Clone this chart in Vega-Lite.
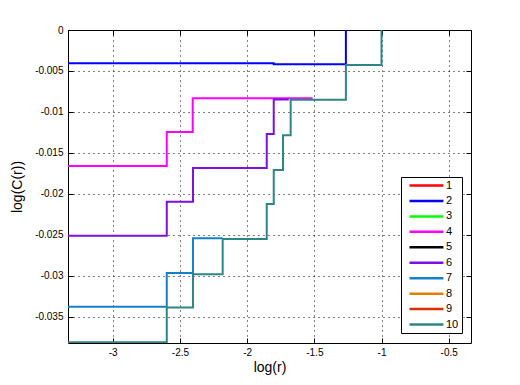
{
  "$schema": "https://vega.github.io/schema/vega-lite/v6.json",
  "width": 403,
  "height": 313,
  "autosize": {"type": "none"},
  "padding": {"left": 68, "top": 30, "right": 49, "bottom": 42},
  "background": "white",
  "config": {
    "font": "Liberation Sans",
    "view": {"stroke": "black", "strokeWidth": 1},
    "axis": {"labelFont": "Liberation Sans", "labelFontSize": 10, "labelColor": "black", "titleFont": "Liberation Sans", "titleFontWeight": "normal", "titleColor": "black", "titleFontSize": 14, "domain": false, "tickColor": "black", "tickSize": -5, "gridColor": "black", "gridOpacity": 1, "gridDash": [1, 4], "gridWidth": 1}
  },
  "data": {"values": [
    {"s": 2, "x": -3.34, "y": -0.00406}, {"s": 2, "x": -1.802, "y": -0.00419}, {"s": 2, "x": -1.265, "y": 0},
    {"s": 4, "x": -3.34, "y": -0.01659}, {"s": 4, "x": -2.598, "y": -0.01246}, {"s": 4, "x": -2.405, "y": -0.00832}, {"s": 4, "x": -1.52, "y": -0.00845},
    {"s": 6, "x": -3.34, "y": -0.02511}, {"s": 6, "x": -2.598, "y": -0.02097}, {"s": 6, "x": -2.403, "y": -0.01684}, {"s": 6, "x": -1.854, "y": -0.0127}, {"s": 6, "x": -1.802, "y": -0.00848}, {"s": 6, "x": -1.69, "y": -0.00848},
    {"s": 7, "x": -3.34, "y": -0.03378}, {"s": 7, "x": -2.598, "y": -0.02965}, {"s": 7, "x": -2.403, "y": -0.02543}, {"s": 7, "x": -2.19, "y": -0.02551},
    {"s": 10, "x": -3.34, "y": -0.0381}, {"s": 10, "x": -2.598, "y": -0.03387}, {"s": 10, "x": -2.403, "y": -0.0298}, {"s": 10, "x": -2.182, "y": -0.02551}, {"s": 10, "x": -1.854, "y": -0.02125}, {"s": 10, "x": -1.802, "y": -0.01708}, {"s": 10, "x": -1.733, "y": -0.01286}, {"s": 10, "x": -1.676, "y": -0.00852}, {"s": 10, "x": -1.265, "y": -0.00426}, {"s": 10, "x": -1.0, "y": 0}
  ]},
  "layer": [
    {
      "mark": {"type": "line", "interpolate": "step-after", "strokeWidth": 2, "clip": true},
      "encoding": {
        "x": {"field": "x", "type": "quantitative", "scale": {"domain": [-3.333, -0.334], "nice": false, "zero": false},
              "axis": {"orient": "bottom", "title": "log(r)", "values": [-3, -2.5, -2, -1.5, -1, -0.5], "labelExpr": "'' + datum.value", "labelPadding": 9, "titlePadding": 3, "grid": true}},
        "y": {"field": "y", "type": "quantitative", "scale": {"domain": [-0.0382, 0], "nice": false, "zero": false},
              "axis": {"orient": "left", "title": "log(C(r))", "values": [0, -0.005, -0.01, -0.015, -0.02, -0.025, -0.03, -0.035], "labelExpr": "'' + datum.value", "labelPadding": 10, "titlePadding": 10, "grid": true}},
        "color": {"field": "s", "type": "ordinal",
                  "scale": {"domain": [1, 2, 3, 4, 5, 6, 7, 8, 9, 10], "range": ["#FF0000", "#0000FF", "#00FF00", "#FF00FF", "#000000", "#7B10E0", "#1580C8", "#E07F00", "#D83000", "#2E8585"]},
                  "legend": {"orient": "none", "legendX": 333, "legendY": 147, "title": null, "symbolType": "M0,0H10", "symbolSize": 46, "symbolStrokeWidth": 2.5, "labelFontSize": 11, "labelFont": "Liberation Sans", "labelColor": "black", "labelOffset": 31, "rowPadding": 3.45, "padding": 3, "strokeColor": "black", "fillColor": "white", "cornerRadius": 0}}
      }
    },
    {
      "mark": {"type": "line", "opacity": 0},
      "encoding": {
        "x": {"field": "x", "type": "quantitative", "axis": {"orient": "top", "title": null, "labels": false, "values": [-3, -2.5, -2, -1.5, -1, -0.5], "grid": false}},
        "y": {"field": "y", "type": "quantitative", "axis": {"orient": "right", "title": null, "labels": false, "values": [0, -0.005, -0.01, -0.015, -0.02, -0.025, -0.03, -0.035], "grid": false}}
      }
    }
  ],
  "resolve": {"axis": {"x": "independent", "y": "independent"}}
}
